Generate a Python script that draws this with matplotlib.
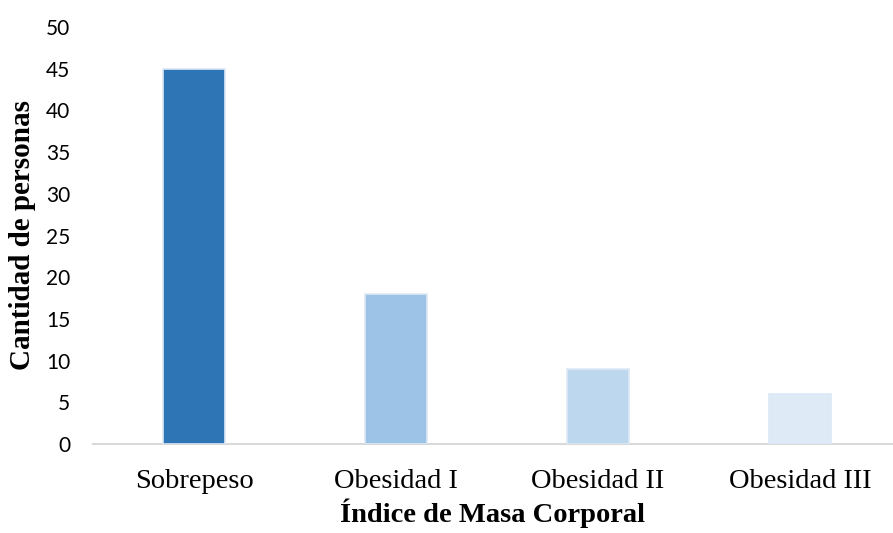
import matplotlib
matplotlib.use("Agg")
import matplotlib.pyplot as plt

categories = ["Sobrepeso", "Obesidad I", "Obesidad II", "Obesidad III"]
values = [45, 18, 9, 6]
colors = ["#2E75B6", "#9DC3E6", "#BDD7EE", "#DEEBF7"]
yticks = [0, 5, 10, 15, 20, 25, 30, 35, 40, 45, 50]

fig = plt.figure(figsize=(8.93, 5.33), dpi=100)
ax = fig.add_axes([93/893, 1-444/533, 1-93/893, (444-27)/533])

x = list(range(len(categories)))
ax.bar(x, values, width=0.31, color=colors, edgecolor="#DDE9F6", linewidth=1.2, zorder=3)

ax.set_xlim(-0.5, 3.46)
ax.set_ylim(0, 50)
ax.set_yticks(yticks)
ax.set_yticklabels([str(v) for v in yticks], fontfamily="Lato", fontsize=15)
ax.set_xticks(x)
ax.set_xticklabels(categories, fontfamily="Liberation Serif", fontsize=20.5)
ax.tick_params(axis="y", length=0, pad=16.5)
ax.tick_params(axis="x", length=0, pad=18)

for s in ["top", "right", "left"]:
    ax.spines[s].set_visible(False)
ax.spines["bottom"].set_color("#D9D9D9")
ax.spines["bottom"].set_linewidth(1.5)

ax.set_xlabel("Índice de Masa Corporal", fontfamily="Liberation Serif", fontsize=20.5,
              fontweight="bold", labelpad=3)
ax.set_ylabel("Cantidad de personas", fontfamily="Liberation Serif", fontsize=21,
              fontweight="bold", labelpad=7)

fig.savefig("out.png", dpi=100)
